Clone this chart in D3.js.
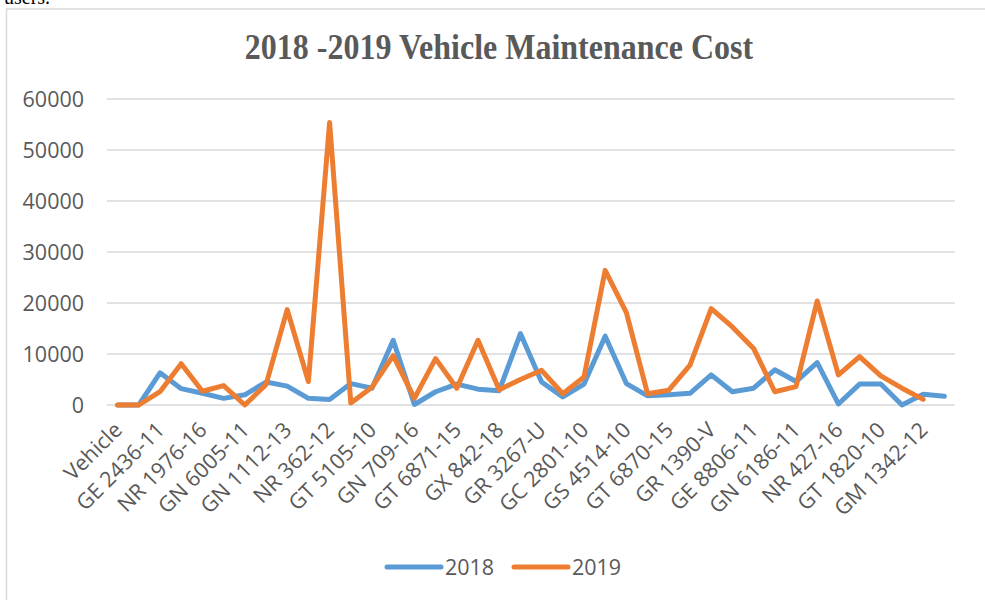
<!DOCTYPE html>
<html>
<head>
<meta charset="utf-8">
<script src="https://cdn.jsdelivr.net/npm/d3@7"></script>
<style>
  body { margin: 0; background: #fff; }
  svg { display: block; }
  .tick text { fill: #595959; }
</style>
</head>
<body>
<svg id="graph" width="985" height="600"></svg>
<script>
// every second vehicle gets a label on the axis
var tickLabels = ["Vehicle", "GE 2436-11", "NR 1976-16", "GN 6005-11", "GN 1112-13",
    "NR 362-12", "GT 5105-10", "GN 709-16", "GT 6871-15", "GX 842-18",
    "GR 3267-U", "GC 2801-10", "GS 4514-10", "GT 6870-15", "GR 1390-V",
    "GE 8806-11", "GN 6186-11", "NR 427-16", "GT 1820-10", "GM 1342-12"];

var cost2018 = [0, 0, 6300, 3200, 2300, 1300, 2000, 4500, 3700, 1300,
    1100, 4200, 3300, 12700, 100, 2600, 4100, 3100, 2800, 14000,
    4500, 1600, 4100, 13500, 4200, 1800, 2000, 2300, 5900, 2600,
    3300, 6900, 4600, 8300, 200, 4100, 4100, 0, 2100, 1700];

var cost2019 = [0, 0, 2600, 8100, 2700, 3800, 0, 4000, 18700, 4600,
    55400, 400, 3500, 9700, 1300, 9100, 3300, 12700, 3000, 5000,
    6800, 2200, 5500, 26400, 18100, 2200, 2900, 7800, 18900, 15300,
    11100, 2600, 3600, 20400, 5900, 9500, 5700, 3300, 1100];

var yTicks = [0, 10000, 20000, 30000, 40000, 50000, 60000];

var series = [
    { name: "2018", values: cost2018, color: "#5B9BD5" },
    { name: "2019", values: cost2019, color: "#ED7D31" }
];

function creaGrafica() {
    let svg = d3.select("#graph");
    var margin = { top: 99, right: 30, bottom: 195, left: 107 };
    var width = +svg.attr("width") - margin.left - margin.right;
    var height = +svg.attr("height") - margin.top - margin.bottom;
    var stretch = 1.05; // the picture text is a bit taller than wide

    // text of the document above the chart, mostly cut off
    svg.append("text")
        .attr("x", 4).attr("y", 4)
        .style("font-family", "'Liberation Serif', serif")
        .style("font-size", "20px")
        .attr("fill", "#000")
        .text("users.");

    // chart frame
    svg.append("rect")
        .attr("x", 6.5).attr("y", 9)
        .attr("width", 1000).attr("height", 620)
        .attr("fill", "#fff")
        .attr("stroke", "#d9d9d9")
        .attr("stroke-width", 1.5);

    // title
    svg.append("text")
        .attr("transform", "translate(499,59) scale(1,1.12)")
        .attr("text-anchor", "middle")
        .style("font-family", "'Liberation Serif', 'Times New Roman', serif")
        .style("font-weight", "bold")
        .style("font-size", "32px")
        .attr("fill", "#595959")
        .text("2018 -2019 Vehicle Maintenance Cost");

    var g = svg.append("g").attr("transform", "translate(" + margin.left + "," + margin.top + ")");

    var x = d3.scalePoint()
        .domain(d3.range(cost2018.length))
        .range([0, width])
        .padding(0.5);
    var y = d3.scaleLinear()
        .domain([0, 60000])
        .range([height, 0]);

    // gridlines
    g.append("g")
        .selectAll("line")
        .data(yTicks)
        .enter().append("line")
        .attr("x1", 0).attr("x2", width)
        .attr("y1", d => y(d)).attr("y2", d => y(d))
        .attr("stroke", "#d9d9d9")
        .attr("stroke-width", 1.3);

    // eje Y
    var yAxis = g.append("g")
        .call(d3.axisLeft(y).tickValues(yTicks).tickSize(0).tickPadding(23).tickFormat(d3.format("d")));
    yAxis.select(".domain").remove();
    yAxis.selectAll("text")
        .style("font-family", "'Open Sans', sans-serif")
        .style("font-size", "21.5px")
        .attr("transform", "scale(1," + stretch + ")");

    // eje X, labels at -45 degrees
    var xAxis = g.append("g")
        .attr("transform", "translate(0," + height + ")")
        .call(d3.axisBottom(x)
            .tickValues(d3.range(0, cost2018.length, 2))
            .tickSize(0)
            .tickFormat(i => tickLabels[i / 2]));
    xAxis.select(".domain").remove();
    xAxis.selectAll("text")
        .attr("x", 0).attr("y", 0).attr("dy", "0.35em")
        .attr("transform", "translate(0,21) rotate(-45)")
        .style("text-anchor", "end")
        .style("font-family", "'Open Sans', sans-serif")
        .style("font-size", "21.5px");

    // lines
    var line = d3.line()
        .x((d, i) => x(i))
        .y(d => y(d));

    g.append("g")
        .selectAll("path")
        .data(series)
        .enter().append("path")
        .attr("d", d => line(d.values))
        .attr("fill", "none")
        .attr("stroke", d => d.color)
        .attr("stroke-width", 5)
        .attr("stroke-linejoin", "round")
        .attr("stroke-linecap", "round");

    // leyenda
    var legendX = [387, 514];
    var legend = svg.append("g")
        .selectAll("g")
        .data(series)
        .enter().append("g")
        .attr("transform", (d, i) => "translate(" + legendX[i] + ",567)");
    legend.append("line")
        .attr("x1", 0).attr("x2", 54)
        .attr("stroke", d => d.color)
        .attr("stroke-width", 5)
        .attr("stroke-linecap", "round");
    legend.append("text")
        .text(d => d.name)
        .attr("x", 58)
        .attr("dy", "0.35em")
        .attr("transform", "scale(1," + stretch + ")")
        .attr("fill", "#595959")
        .style("font-family", "'Open Sans', sans-serif")
        .style("font-size", "21.5px");
}

creaGrafica();
</script>
</body>
</html>
